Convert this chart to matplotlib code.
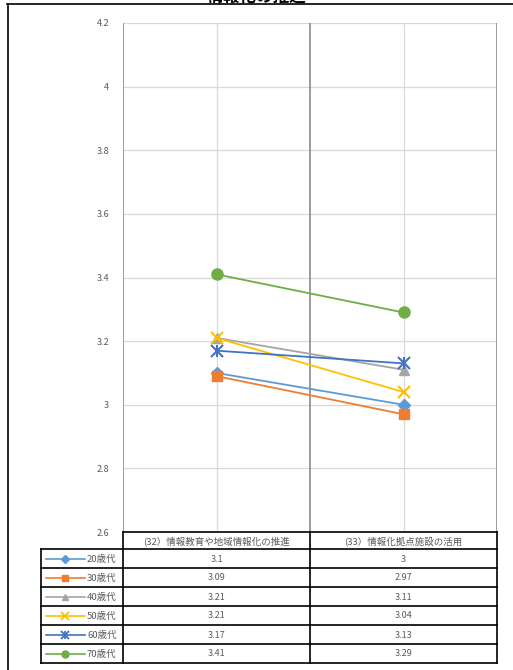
import matplotlib.pyplot as plt
from matplotlib.lines import Line2D

plt.rcParams['font.family'] = ['Noto Sans CJK JP', 'DejaVu Sans']

categories = ["(32）情報教育や地域情報化の推進", "(33）情報化拠点施設の活用"]
series_names = ["20歳代", "30歳代", "40歳代", "50歳代", "60歳代", "70歳代"]
values_20 = [3.1, 3.0]
values_30 = [3.09, 2.97]
values_40 = [3.21, 3.11]
values_50 = [3.21, 3.04]
values_60 = [3.17, 3.13]
values_70 = [3.41, 3.29]
y_ticks = [2.6, 2.8, 3.0, 3.2, 3.4, 3.6, 3.8, 4.0, 4.2]
title = "情報化の推進"

series = [values_20, values_30, values_40, values_50, values_60, values_70]
colors = ["#5B9BD5", "#ED7D31", "#A5A5A5", "#FFC000", "#4472C4", "#70AD47"]
markers = ["D", "s", "^", "x", "x", "o"]
msizes = [6, 7, 7, 9, 9, 8]

W, H = 513, 670
fig = plt.figure(figsize=(W / 100, H / 100), dpi=100)

# plot area in pixels
L, R, T, B = 123, 497, 23, 532
ax = fig.add_axes([L / W, 1 - B / H, (R - L) / W, (B - T) / H])
x = [0.5, 1.5]
for vals, c, m, ms in zip(series, colors, markers, msizes):
    ax.plot(x, vals, color=c, lw=1.3, marker=m, ms=ms, mew=1.5 if m == "x" else 1,
            zorder=3, clip_on=False)
# star marker for 60s: add vertical stroke
ax.plot(x, values_60, ls="none", marker="|", ms=9, mew=1.5, color=colors[4],
        zorder=3, clip_on=False)

ax.set_xlim(0, 2)
ax.set_ylim(2.6, 4.2)
ax.set_yticks(y_ticks)
ax.set_yticklabels([f"{t:g}" for t in y_ticks])
ax.set_xticks([])
ax.tick_params(axis="y", length=0, pad=10, labelsize=6.5, labelcolor="#595959")
for s in ax.spines.values():
    s.set_visible(False)
for t in y_ticks[1:]:
    ax.axhline(t, color="#D9D9D9", lw=0.9, zorder=1)
for xv in x:
    ax.axvline(xv, color="#D9D9D9", lw=0.9, zorder=1)
for xv in [0, 1, 2]:
    ax.axvline(xv, color="#808080", lw=1.1, zorder=2)

# overlay for frame and data table
ov = fig.add_axes([0, 0, 1, 1], zorder=5)
ov.set_xlim(0, W)
ov.set_ylim(H, 0)
ov.axis("off")
ov.patch.set_alpha(0)

ov.plot([8, 8], [4, H + 2], color="black", lw=1.2, clip_on=False)
ov.plot([7, W + 2], [4, 4], color="black", lw=1.2, clip_on=False)
# title sits above the visible area, only its lower edge shows
ov.text(257, 1.5, title, ha="center", va="baseline", fontsize=12, fontweight="bold",
        color="black", clip_on=False)

col_x = [41, 123, 310, 497]
hdr_top, hdr_bot = 532, 549
row_h = 19
n = len(series)
tbl_bot = hdr_bot + row_h * n
lw = 1.2
ov.plot([L, R], [hdr_top, hdr_top], color="black", lw=lw)
for i in range(n + 1):
    y = hdr_bot + row_h * i
    ov.plot([col_x[0], col_x[-1]], [y, y], color="black", lw=lw)
ov.plot([col_x[0], col_x[0]], [hdr_bot, tbl_bot], color="black", lw=lw)
for cx in col_x[1:]:
    ov.plot([cx, cx], [hdr_top, tbl_bot], color="black", lw=lw)

tc = "#595959"
for j, cat in enumerate(categories):
    cx = (col_x[j + 1] + col_x[j + 2]) / 2
    ov.text(cx, (hdr_top + hdr_bot) / 2 + 0.5, cat, ha="center", va="center",
            fontsize=6.8, color=tc)
for i, (name, vals, c, m) in enumerate(zip(series_names, series, colors, markers)):
    yc = hdr_bot + row_h * i + row_h / 2
    ov.plot([46, 85], [yc, yc], color=c, lw=1.2)
    ms = {"D": 4, "s": 5, "^": 5, "x": 6, "o": 5}[m]
    ov.plot([65], [yc], marker=m, ms=ms, color=c, mew=1.3 if m == "x" else 1)
    if i == 4:
        ov.plot([65], [yc], marker="|", ms=6, mew=1.3, color=c)
    ov.text(87, yc + 0.5, name, ha="left", va="center", fontsize=6.8, color=tc)
    for j, v in enumerate(vals):
        cx = (col_x[j + 1] + col_x[j + 2]) / 2
        ov.text(cx, yc + 0.5, f"{v:g}", ha="center", va="center", fontsize=6.5, color=tc)

fig.savefig("out.png", dpi=100)
